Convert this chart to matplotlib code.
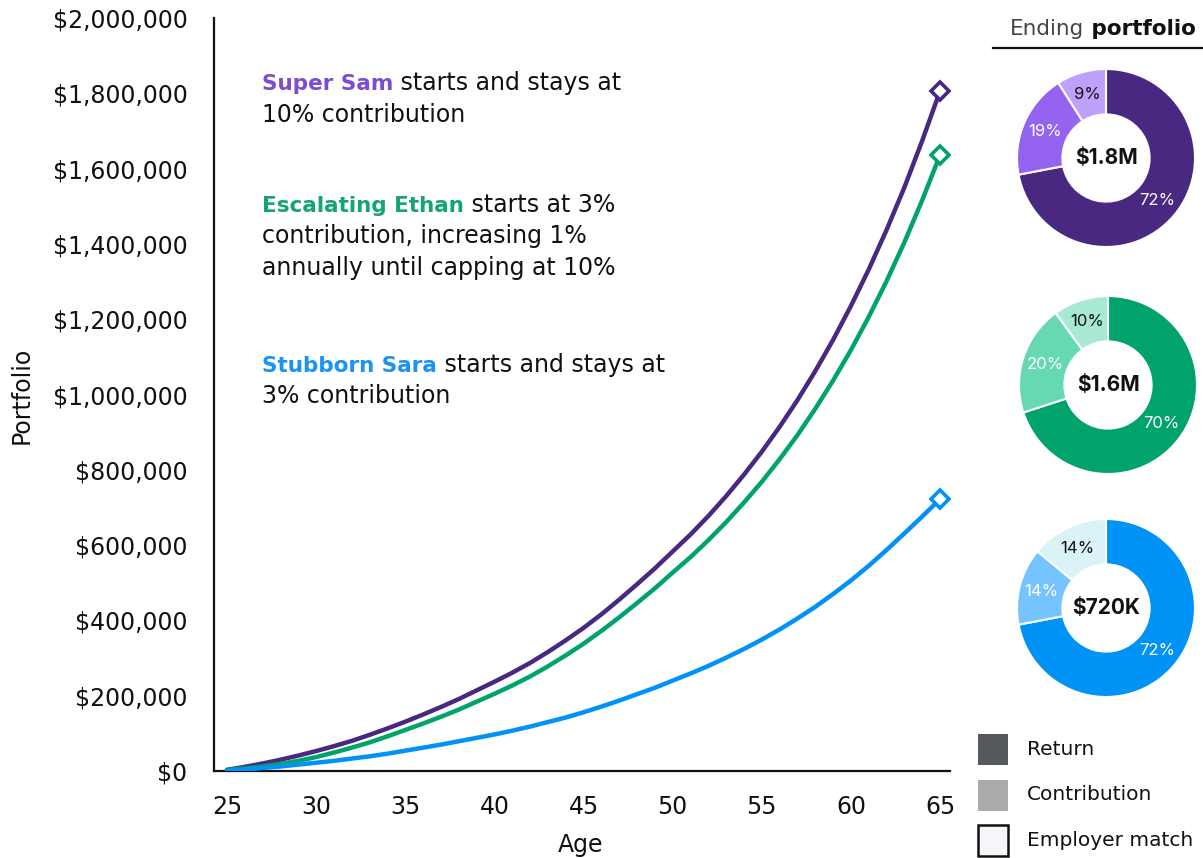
import matplotlib
matplotlib.use("Agg")
import matplotlib.pyplot as plt
from matplotlib.patches import Rectangle
from matplotlib.ticker import FuncFormatter

plt.rcParams['font.family'] = ['DejaVu Sans']

## data (portfolio in $K)
ages = list(range(25, 66))
sam = [3, 11, 20, 30, 41, 53, 66, 80, 96, 113, 131, 150, 170, 191, 214, 237, 261, 287, 316, 347,
       380, 416, 455, 496, 538, 583, 628, 677, 730, 787, 848, 914, 985, 1062, 1145, 1235, 1332,
       1437, 1550, 1674, 1806]
ethan = [3, 7, 12, 19, 27, 37, 49, 62, 76, 92, 109, 126, 144, 163, 184, 205, 227, 251, 278, 307,
         338, 372, 408, 446, 485, 527, 568, 613, 661, 713, 768, 828, 892, 962, 1037, 1118, 1206,
         1301, 1404, 1516, 1636]
sara = [1, 4, 8, 12, 17, 22, 27, 33, 39, 46, 54, 62, 70, 79, 88, 97, 107, 118, 130, 142,
        156, 171, 187, 204, 221, 240, 259, 279, 301, 324, 349, 376, 405, 436, 470, 506, 545,
        587, 631, 676, 722]

## ending portfolio split: return, contribution, employer match
sam_split = [72, 19, 9]
ethan_split = [70, 20, 10]
sara_split = [72, 14, 14]
totals = ["$1.8M", "$1.6M", "$720K"]
legend_labels = ["Return", "Contribution", "Employer match"]

line_colors = ["#482880", "#00A36C", "#0092F7"]
name_colors = ["#7C4DD3", "#14A670", "#1A93F4"]
pie_colors = [["#482880", "#9463F0", "#BEA1FA"],
              ["#00A36C", "#66D8B3", "#A8E9D5"],
              ["#0093F7", "#75C4FF", "#DAF3F7"]]
INK = '#111111'
FS = 17

W, H = 1203, 858
fig = plt.figure(figsize=(W / 100, H / 100), dpi=100)

def fx(px):
    return px / W

def fy(py):
    return 1 - py / H

## main line chart
ax = fig.add_axes([fx(214), fy(771), fx(950) - fx(214), fy(18) - fy(771)])
for vals, c in zip([sam, ethan, sara], line_colors):
    ax.plot(ages, [v * 1000 for v in vals], color=c, lw=3.2, solid_capstyle='round', zorder=3)
    ax.plot(ages[-1], vals[-1] * 1000, marker='D', ms=9, mfc='white', mec=c, mew=2.6, zorder=4)

ax.set_xlim(24.27, 65.56)
ax.set_ylim(0, 2000000)
ax.set_xticks(range(25, 66, 5))
ax.set_yticks(range(0, 2000001, 200000))
ax.yaxis.set_major_formatter(FuncFormatter(lambda v, p: "${:,.0f}".format(v)))
ax.tick_params(length=0, labelsize=FS, colors=INK)
ax.tick_params(axis='y', pad=19)
ax.tick_params(axis='x', pad=17)
for s in ['top', 'right']:
    ax.spines[s].set_visible(False)
for s in ['left', 'bottom']:
    ax.spines[s].set_linewidth(1.6)
    ax.spines[s].set_color(INK)
fig.text(fx(22), fy(395), "Portfolio", rotation=90, ha='center', va='center', fontsize=FS, color=INK)
fig.text(fx(581), fy(845), "Age", ha='center', va='center', fontsize=FS, color=INK)

## annotations with coloured names
notes = [("Super Sam", [" starts and stays at", "10% contribution"], 90),
         ("Escalating Ethan", [" starts at 3%", "contribution, increasing 1%", "annually until capping at 10%"], 212),
         ("Stubborn Sara", [" starts and stays at", "3% contribution"], 372)]
fig.canvas.draw()
renderer = fig.canvas.get_renderer()
for (name, rest, base), nc in zip(notes, name_colors):
    t = fig.text(fx(262), fy(base), name, color=nc, fontsize=15.5, fontweight='bold', va='baseline')
    bb = t.get_window_extent(renderer)
    x1 = fig.transFigure.inverted().transform((bb.x1, 0))[0]
    fig.text(x1, fy(base), rest[0], color=INK, fontsize=FS, va='baseline')
    for i, line in enumerate(rest[1:]):
        fig.text(fx(262), fy(base + 31.5 * (i + 1)), line, color=INK, fontsize=FS, va='baseline')

## donuts
centers = [(1106, 158), (1108, 385), (1106, 608)]
for (cx, cy), split, cols, tot in zip(centers, [sam_split, ethan_split, sara_split], pie_colors, totals):
    r = 89
    pax = fig.add_axes([fx(cx - r), fy(cy + r), fx(2 * r), fy(cy - r) - fy(cy + r)])
    wedges, _, autotexts = pax.pie(split, colors=cols, startangle=90, counterclock=False,
                                   autopct='%d%%', pctdistance=0.745,
                                   wedgeprops=dict(width=0.51, edgecolor='white', linewidth=1.5),
                                   textprops=dict(fontsize=12, family=['Inter', 'DejaVu Sans']))
    for txt, tc in zip(autotexts, ['white', 'white', INK]):
        txt.set_color(tc)
    pax.text(0, 0, tot, ha='center', va='center', fontsize=15, fontweight='bold', color=INK,
             family=['Inter', 'DejaVu Sans'])
    pax.set_xlim(-1, 1)
    pax.set_ylim(-1, 1)
    pax.set_aspect('equal')
    pax.axis('off')

## title above donuts
t = fig.text(fx(1010), fy(35), "Ending", color='#444444', fontsize=15.5, va='baseline')
bb = t.get_window_extent(renderer)
x1 = fig.transFigure.inverted().transform((bb.x1, 0))[0]
fig.text(x1, fy(35), " portfolio", color=INK, fontsize=15.5, fontweight='bold', va='baseline')
fig.add_artist(plt.Line2D([fx(993), 1], [fy(48), fy(48)], color=INK, lw=1.6))

## legend (drawn by hand)
leg_fill = ["#55585C", "#AAAAAA", "#F4F6F9"]
leg_edge = ["#55585C", "#AAAAAA", INK]
for i, (lab, fc, ec) in enumerate(zip(legend_labels, leg_fill, leg_edge)):
    top = 734 + 45.5 * i
    fig.add_artist(Rectangle((fx(978), fy(top + 31)), fx(30), fy(top) - fy(top + 31),
                             facecolor=fc, edgecolor=ec, lw=1.8 if ec == INK else 0))
    fig.text(fx(1027), fy(top + 15.5), lab, color=INK, fontsize=14.5, va='center')

fig.savefig("out.png", dpi=100)
